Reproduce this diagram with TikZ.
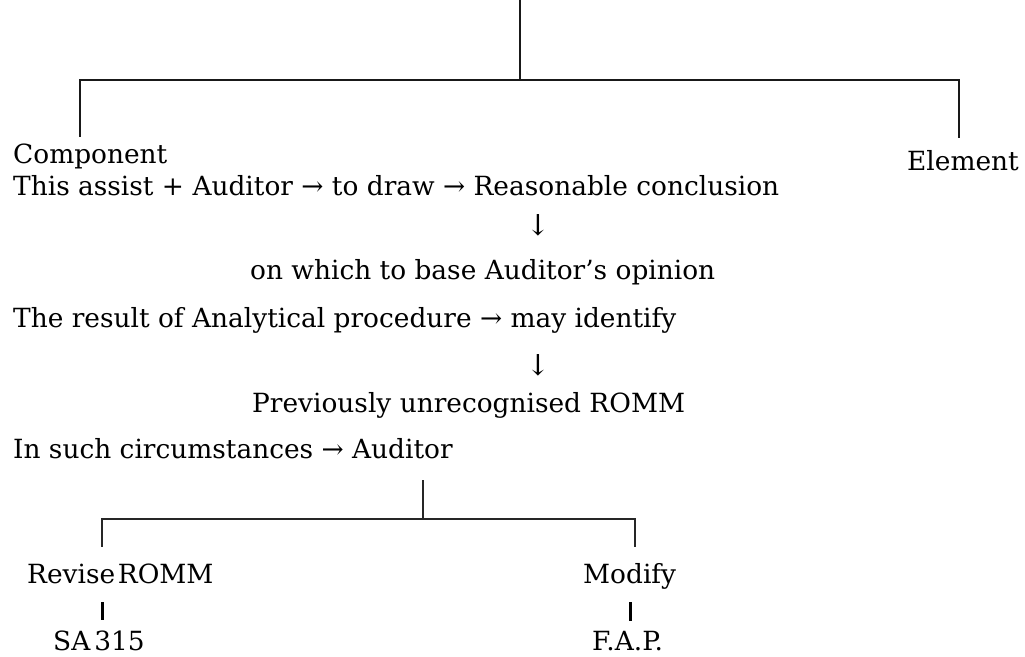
\documentclass[tikz,border=0pt]{standalone}
\usepackage{fontspec}
\setmainfont{DejaVu Serif}
\begin{document}
\begin{tikzpicture}[x=1pt,y=-1pt,
  txt/.style={anchor=base west, inner sep=0pt, text=black,
              font=\fontsize{26.4}{31}\selectfont},
  glyph/.style={anchor=center, inner sep=0pt, text=black,
              font=\fontsize{29}{34}\selectfont},
  tree/.style={line width=2pt, black!90},
  subtree/.style={line width=1.6pt, black!85},
  stem/.style={line width=3pt, black}]
\useasboundingbox[fill=white] (0,0) rectangle (1025,656);

% upper branching
\coordinate (root) at (520,0);
\coordinate (hub) at (520,80);
\coordinate (lstub) at (80,137);
\coordinate (rstub) at (959,138);
\draw[tree] (root) -- (hub);
\draw[tree] (hub) -| (lstub);
\draw[tree] (hub) -| (rstub);

\node[txt] (comp) at (13,163) {Component};
\node[txt] (elem) at (907,170) {Element};

% text block
\node[txt] (l1) at (13,195) {This assist + Auditor → to draw → Reasonable conclusion};
\node[glyph] (a1) at (538,225) {↓};
\node[txt] (l2) at (250,279) {on which to base Auditor’s opinion};
\node[txt] (l3) at (13,327) {The result of Analytical procedure → may identify};
\node[glyph] (a2) at (538,365) {↓};
\node[txt] (l4) at (252,412) {Previously unrecognised ROMM};
\node[txt] (l5) at (13,458) {In such circumstances → Auditor};

% lower branching
\coordinate (bhub0) at (423,480);
\coordinate (bhub) at (423,519);
\coordinate (bl) at (102,547);
\coordinate (br) at (635,547);
\draw[subtree] (bhub0) -- (bhub);
\draw[subtree] (bhub) -| (bl);
\draw[subtree] (bhub) -| (br);

\node[txt] (rev) at (27,583) {Revise\hspace{0.1em}ROMM};
\node[txt] (mod) at (583,583) {Modify};
\node[txt] (sa) at (53,650) {SA\hspace{0.15em}315};
\node[txt] (fap) at (592,650) {F.A.P.};

\coordinate (s1a) at (102,602);
\coordinate (s1b) at (102,620);
\coordinate (s2a) at (630,602);
\coordinate (s2b) at (630,621);
\draw[stem] (s1a) -- (s1b);
\draw[stem] (s2a) -- (s2b);
\end{tikzpicture}
\end{document}
